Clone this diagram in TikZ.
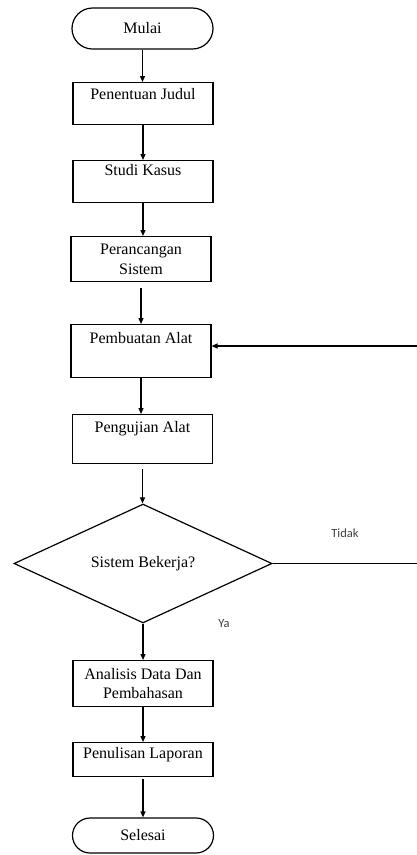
\documentclass[tikz,border=0pt]{standalone}
\usepackage{fontspec}
\setmainfont{Liberation Serif}
\newfontfamily\labelfont{Carlito}
\usetikzlibrary{arrows.meta,shapes.geometric,shapes.misc}
\begin{document}
\begin{tikzpicture}[x=1pt,y=-1pt,
  every node/.style={font=\fontsize{16}{19.5}\selectfont},
  procbox/.style={draw, line width=1.2pt, inner sep=0pt, anchor=north, align=center, minimum width=140pt},
  termbox/.style={draw, line width=1.2pt, rounded rectangle, inner sep=0pt, minimum width=141pt},
  decbox/.style={draw, line width=1.2pt, diamond, inner sep=0pt, minimum width=258pt, minimum height=117pt},
  flow/.style={line width=1.2pt, -{Triangle[length=6pt,width=5pt]}},
  lbl/.style={font=\labelfont\fontsize{12.5}{14}\selectfont, text=black!75}]
\useasboundingbox (0,0) rectangle (417,855);

\node[termbox, minimum height=41pt] (start) at (142.5,28.5) {Mulai};
\node[procbox, text height=17pt, text depth=25pt] (pj) at (143,82) {Penentuan Judul};
\node[procbox, text height=15pt, text depth=27pt] (sk) at (143,160) {Studi Kasus};
\node[procbox, minimum height=45pt] (ps) at (141,236) {Perancangan\\Sistem};
\node[procbox, text height=19pt, text depth=34pt] (pb) at (141,324) {Pembuatan Alat};
\node[procbox, text height=18pt, text depth=31pt] (pa) at (142.5,414) {Pengujian Alat};
\node[decbox] (dec) at (143,563.5) {Sistem Bekerja?};
\node[procbox, minimum height=46pt] (ad) at (143,660) {Analisis Data Dan\\Pembahasan};
\node[procbox, text height=16pt, text depth=18pt] (pl) at (143,742) {Penulisan Laporan};
\node[termbox, minimum height=35pt] (end) at (143,835.5) {Selesai};

\node[lbl] (tidak) at (345,533) {Tidak};
\node[lbl] (ya) at (224,624) {Ya};

\draw[flow] (start.south) -- (start.south |- pj.north);
\draw[flow] (pj.south) -- (pj.south |- sk.north);
\draw[flow] (sk.south) -- (sk.south |- ps.north);
\draw[flow, shorten <=6pt] (ps.south) -- (ps.south |- pb.north);
\draw[flow] (pb.south) -- (pb.south |- pa.north);
\draw[flow, shorten <=5pt] (pa.south) -- (pa.south |- dec.north);
\draw[flow] (dec.south) -- (dec.south |- ad.north);
\draw[flow] (ad.south) -- (ad.south |- pl.north);
\draw[flow, shorten <=2pt] (pl.south) -- (pl.south |- end.north);

\coordinate (fr) at (418.5,563.5);
\coordinate (fu) at (418.5,346);
\draw[flow] (dec.east) -- (fr) -- (fu) -- (fu -| pb.east);
\end{tikzpicture}
\end{document}
